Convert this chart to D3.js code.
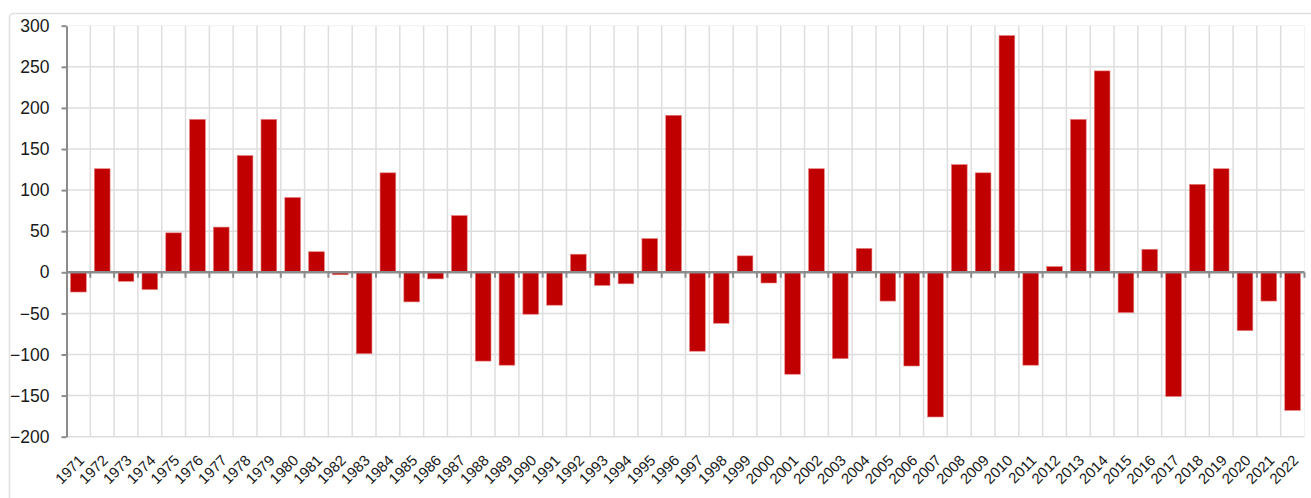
<!DOCTYPE html>
<html>
<head>
<meta charset="utf-8">
<script src="https://cdn.jsdelivr.net/npm/d3@7"></script>
<style>
  body { margin: 0; background: #fff; }
  svg { display: block; }
  text { font-family: "Liberation Sans", Arial, sans-serif; fill: #1a1a1a; }
</style>
</head>
<body>
<div id="chart"></div>
<script>
var years = ['1971', '1972', '1973', '1974', '1975', '1976', '1977', '1978', '1979', '1980',
  '1981', '1982', '1983', '1984', '1985', '1986', '1987', '1988', '1989', '1990',
  '1991', '1992', '1993', '1994', '1995', '1996', '1997', '1998', '1999', '2000',
  '2001', '2002', '2003', '2004', '2005', '2006', '2007', '2008', '2009', '2010',
  '2011', '2012', '2013', '2014', '2015', '2016', '2017', '2018', '2019', '2020',
  '2021', '2022'];

var values = [-24, 126, -11, -21, 48, 186, 55, 142, 186, 91,
  25, -3, -99, 121, -36, -8, 69, -108, -113, -51,
  -40, 22, -16, -14, 41, 191, -96, -62, 20, -13,
  -124, 126, -105, 29, -35, -114, -176, 131, 121, 288,
  -113, 7, 186, 245, -49, 28, -151, 107, 126, -71,
  -35, -168];

var yTicks = [-200, -150, -100, -50, 0, 50, 100, 150, 200, 250, 300];

var W = 1311, H = 498;
var margin = { top: 25.7, right: 6.5, bottom: 61.3, left: 66.5 },
  width = W - margin.left - margin.right,
  height = H - margin.top - margin.bottom;

var svg = d3.select('#chart').append('svg').attr('width', W).attr('height', H);

// outer frame
svg.append('rect')
  .attr('x', 9.5).attr('y', 13.5)
  .attr('width', W + 20).attr('height', H + 20)
  .attr('rx', 4)
  .attr('fill', 'none')
  .attr('stroke', '#e0e0e0')
  .attr('stroke-width', 1.5);

var g = svg.append('g').attr('transform', 'translate(' + margin.left + ',' + margin.top + ')');

var x = d3.scaleBand().domain(years).range([0, width]).paddingInner(0.34).paddingOuter(0.17);
var y = d3.scaleLinear().domain([-200, 300]).range([height, 0]);

var step = x.step();
var bounds = years.map(function (d) { return x(d) - x.paddingOuter() * step; });
bounds.push(width);

// plot area faint border
g.append('rect')
  .attr('width', width).attr('height', height)
  .attr('fill', 'none').attr('stroke', '#f2f2f2');

// horizontal grid
g.selectAll('.hgrid').data(yTicks.filter(function (d) { return d !== 0 && d !== 300; }))
  .enter().append('line')
  .attr('x1', 0).attr('x2', width)
  .attr('y1', function (d) { return y(d); }).attr('y2', function (d) { return y(d); })
  .attr('stroke', '#dedede').attr('stroke-width', 1.5);

// vertical grid at category boundaries
g.selectAll('.vgrid').data(bounds.slice(1, -1))
  .enter().append('line')
  .attr('x1', function (d) { return d; }).attr('x2', function (d) { return d; })
  .attr('y1', 0).attr('y2', height)
  .attr('stroke', '#dedede').attr('stroke-width', 1.5);

// bars
g.selectAll('.bar').data(values)
  .enter().append('rect')
  .attr('x', function (d, i) { return x(years[i]); })
  .attr('width', x.bandwidth())
  .attr('y', function (d) { return y(Math.max(0, d)); })
  .attr('height', function (d) { return Math.abs(y(d) - y(0)); })
  .attr('fill', '#c00000')
  .attr('stroke', '#e87b7b')
  .attr('stroke-width', 0.6);

// y axis
var yAxis = g.append('g').call(d3.axisLeft(y).tickValues(yTicks).tickSize(5).tickSizeOuter(0).tickPadding(12));
yAxis.select('.domain').attr('stroke', '#8c8c8c').attr('stroke-width', 2);
yAxis.selectAll('.tick line').attr('stroke', '#8c8c8c').attr('stroke-width', 2);
yAxis.selectAll('.tick text').attr('font-size', 17.5).attr('fill', '#1a1a1a')
  .style('font-family', '"Liberation Sans", Arial, sans-serif');

// zero line with ticks at category boundaries
var zero = g.append('g').attr('transform', 'translate(0,' + y(0) + ')');
zero.append('line').attr('x1', 0).attr('x2', width).attr('stroke', '#8c8c8c').attr('stroke-width', 2.5);
zero.selectAll('.zt').data(bounds.slice(1))
  .enter().append('line')
  .attr('x1', function (d) { return d; }).attr('x2', function (d) { return d; })
  .attr('y1', 0).attr('y2', 5.5)
  .attr('stroke', '#8c8c8c').attr('stroke-width', 2);

// x labels
g.selectAll('.xl').data(years)
  .enter().append('text')
  .attr('transform', function (d) {
    return 'translate(' + (x(d) + x.bandwidth() / 2 + 3) + ',' + (height + 21) + ') rotate(-45)';
  })
  .attr('text-anchor', 'end')
  .attr('dy', '0.35em')
  .attr('font-size', 15)
  .text(function (d) { return d; });
</script>
</body>
</html>
